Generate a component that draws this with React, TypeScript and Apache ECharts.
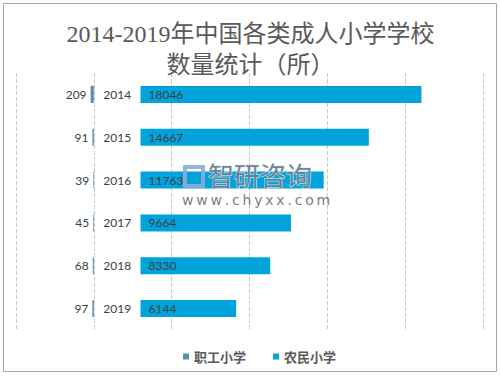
import React, { useEffect, useRef } from "react";
import * as echarts from "echarts";

const years = ["2014", "2015", "2016", "2017", "2018", "2019"];
const workerSchools = [209, 91, 39, 45, 68, 97];
const farmerSchools = [18046, 14667, 11763, 9664, 8330, 6144];
const LABEL_GAP = 3000;

export default function App() {
  const ref = useRef<HTMLDivElement>(null);
  useEffect(() => {
    if (!ref.current) return;
    const chart = echarts.init(ref.current, null, { renderer: "svg" });
    const labelFont = "Lato, 'Liberation Sans', sans-serif";
    chart.setOption({
      animation: false,
      backgroundColor: "#ffffff",
      title: {
        text: "2014-2019年中国各类成人小学学校\n数量统计（所）",
        left: "center",
        top: 13,
        textStyle: {
          fontSize: 24,
          lineHeight: 31,
          fontWeight: "normal",
          color: "#595959",
          fontFamily: "'Liberation Serif', 'Noto Sans CJK SC', serif",
        },
      },
      legend: {
        data: ["职工小学", "农民小学"],
        left: 178,
        top: 345,
        icon: "rect",
        itemWidth: 6,
        itemHeight: 6,
        itemGap: 27,
        textStyle: {
          fontSize: 13,
          fontWeight: "bold",
          color: "#595959",
          fontFamily: "'Noto Sans CJK SC', sans-serif",
        },
      },
      grid: { left: 16, right: 18, top: 73, bottom: 46 },
      xAxis: {
        type: "value",
        min: -5000,
        max: 25000,
        interval: 5000,
        axisLabel: { show: false },
        axisLine: { show: false },
        axisTick: { show: false },
        splitLine: { show: true, lineStyle: { type: "dashed", color: "#c8c8c8" } },
      },
      yAxis: {
        type: "category",
        inverse: true,
        data: years,
        axisLabel: { show: false },
        axisLine: { show: false },
        axisTick: { show: false },
      },
      series: [
        {
          name: "职工小学",
          type: "bar",
          stack: "total",
          barWidth: 17,
          data: workerSchools.map((v) => -v),
          itemStyle: { color: "#5A8FAB" },
          label: {
            show: true,
            position: "left",
            distance: 4,
            formatter: (p: any) => String(Math.abs(p.value)),
            color: "#404040",
            fontSize: 12,
            fontFamily: labelFont,
          },
        },
        {
          name: "gap",
          type: "bar",
          stack: "total",
          barWidth: 17,
          data: years.map(() => LABEL_GAP),
          itemStyle: { color: "transparent" },
          emphasis: { disabled: true },
          label: {
            show: true,
            position: "inside",
            formatter: (p: any) => p.name,
            color: "#404040",
            fontSize: 12,
            fontFamily: labelFont,
          },
        },
        {
          name: "农民小学",
          type: "bar",
          stack: "total",
          barWidth: 17,
          data: farmerSchools,
          itemStyle: { color: "#00A3DA" },
          label: {
            show: true,
            position: "insideLeft",
            distance: 8,
            color: "#404040",
            fontSize: 12,
            fontFamily: labelFont,
          },
        },
      ],
      graphic: [
        {
          type: "rect",
          shape: { x: 3.5, y: 3.5, width: 493, height: 368 },
          style: { fill: "none", stroke: "#a6a6a6", lineWidth: 1 },
          silent: true,
        },
        {
          type: "rect",
          zlevel: 1,
          z: 100,
          silent: true,
          shape: { x: 185, y: 167, width: 18, height: 19 },
          style: { fill: "none", stroke: "rgba(140,170,215,0.9)", lineWidth: 4 },
        },
        {
          type: "text",
          zlevel: 1,
          z: 100,
          silent: true,
          x: 208,
          y: 161,
          style: {
            text: "智研咨询",
            fontSize: 26,
            verticalAlign: "top",
            fill: "rgba(100,115,135,0.9)",
            stroke: "rgba(220,235,245,0.8)",
            lineWidth: 1.5,
            fontFamily: "'Noto Sans CJK SC', sans-serif",
          },
        },
        {
          type: "text",
          zlevel: 1,
          z: 100,
          silent: true,
          x: 182,
          y: 193,
          style: {
            text: "www.chyxx.com".split("").join("\u2009"),
            fontSize: 14,
            verticalAlign: "top",
            fill: "rgba(90,90,90,0.8)",
            fontFamily: "'DejaVu Sans', sans-serif",
          },
        },
      ],
    });
    return () => chart.dispose();
  }, []);
  return (
    <div
      ref={ref}
      style={{ position: "fixed", left: 0, top: 0, width: 501, height: 376 }}
    />
  );
}
